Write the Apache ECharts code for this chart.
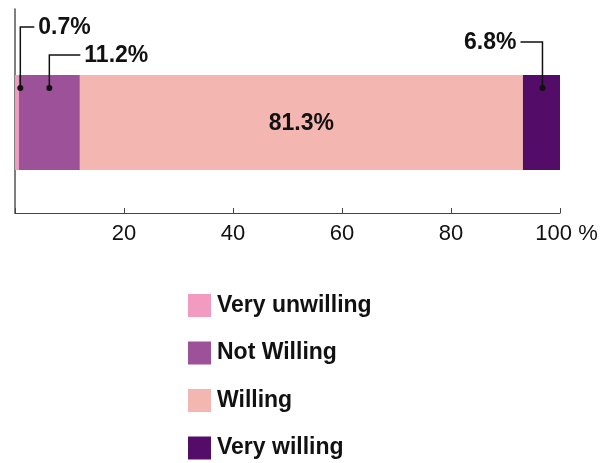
<!DOCTYPE html>
<html>
<head>
<meta charset="utf-8">
<script src="https://cdn.jsdelivr.net/npm/echarts@6/dist/echarts.min.js"></script>
<style>
  html, body { margin: 0; padding: 0; background: #fff; }
  #chart { width: 614px; height: 463px; }
</style>
</head>
<body>
<div id="chart"></div>
<script>
// Survey answers, share of respondents in percent
const categories = ['Willingness'];
const seriesNames = ['Very unwilling', 'Not Willing', 'Willing', 'Very willing'];
const veryUnwilling = [0.7];
const notWilling = [11.2];
const willing = [81.3];
const veryWilling = [6.8];
const axisTicks = [0, 20, 40, 60, 80, 100];

const colors = ['#F29AC0', '#9C5198', '#F4B6B1', '#530D68'];
const FONT = '"Liberation Sans", Arial, Helvetica, sans-serif';
const BAR_W = 95;

const values = [veryUnwilling, notWilling, willing, veryWilling];

// Leader-line callouts for the narrow segments (segment index, anchor within segment,
// pixel nudge of the anchor, label height above bar top, horizontal arm length, label side)
const callouts = [
  { seg: 0, frac: 1.0, nudge: 1.5, rise: 48, arm: 14, side: 'right' },
  { seg: 1, frac: 0.5, nudge: 0, rise: 20, arm: 31, side: 'right' },
  { seg: 3, frac: 0.5, nudge: 1, rise: 33, arm: 22, side: 'left' }
];

const starts = [];
let acc = 0;
values.forEach(v => { starts.push(acc); acc += v[0]; });

const calloutData = callouts.map(c => [starts[c.seg] + values[c.seg][0] * c.frac, 0]);

const barSeries = seriesNames.map((name, i) => ({
  name: name,
  type: 'bar',
  stack: 'total',
  xAxisIndex: 0,
  yAxisIndex: 0,
  barWidth: BAR_W,
  data: values[i],
  itemStyle: { color: colors[i] },
  label: {
    show: i === 2,
    position: 'inside',
    offset: [0, 1],
    formatter: p => p.value + '%',
    color: '#111',
    fontSize: 23,
    fontWeight: 'bold',
    fontFamily: FONT
  },
  emphasis: { disabled: true }
}));

const calloutSeries = {
  type: 'custom',
  xAxisIndex: 0,
  yAxisIndex: 0,
  z: 10,
  clip: false,
  silent: true,
  data: calloutData,
  encode: { x: 0, y: 1 },
  renderItem: function (params, api) {
    const c = callouts[params.dataIndex];
    const pt = api.coord([api.value(0), api.value(1)]);
    const x = pt[0] + c.nudge;
    const top = pt[1] - BAR_W / 2;
    const dotY = top + 13;
    const ly = top - c.rise;
    const dir = c.side === 'right' ? 1 : -1;
    const ex = x + dir * c.arm;
    const text = values[c.seg][0] + '%';
    return {
      type: 'group',
      children: [
        {
          type: 'polyline',
          shape: { points: [[x, dotY], [x, ly], [ex, ly]] },
          style: { stroke: '#111', lineWidth: 1.5, fill: null }
        },
        {
          type: 'circle',
          shape: { cx: x, cy: dotY, r: 3 },
          style: { fill: '#111' }
        },
        {
          type: 'text',
          x: ex + dir * 4,
          y: ly + 1,
          style: {
            text: text,
            fill: '#111',
            font: 'bold 23px ' + FONT,
            align: c.side === 'right' ? 'left' : 'right',
            verticalAlign: 'middle'
          }
        }
      ]
    };
  }
};

const chart = echarts.init(document.getElementById('chart'), null, { renderer: 'canvas' });

chart.setOption({
  animation: false,
  backgroundColor: '#fff',
  grid: [
    { left: 15, right: 54, top: 32, bottom: 250 },
    { left: 15, right: 54, top: 9, bottom: 250 }
  ],
  xAxis: [
    {
      gridIndex: 0,
      type: 'value',
      min: axisTicks[0],
      max: axisTicks[axisTicks.length - 1],
      interval: axisTicks[1] - axisTicks[0],
      splitLine: { show: false },
      axisLine: { show: true, lineStyle: { color: '#444', width: 1.2 } },
      axisTick: { show: true, inside: true, length: 5, lineStyle: { color: '#444' } },
      axisLabel: {
        margin: 10,
        color: '#111',
        fontSize: 22,
        fontFamily: FONT,
        showMinLabel: true,
        showMaxLabel: true,
        formatter: v => {
          if (v === axisTicks[0]) return '';
          if (v === axisTicks[axisTicks.length - 1]) return '{m|' + v + ' %}';
          return String(v);
        },
        rich: {
          m: { fontSize: 22, fontFamily: FONT, color: '#111', padding: [0, 0, 0, 13] }
        }
      }
    },
    {
      gridIndex: 1,
      type: 'value',
      min: 0,
      max: 100,
      show: false
    }
  ],
  yAxis: [
    {
      gridIndex: 0,
      type: 'category',
      data: categories,
      axisLine: { show: false },
      axisTick: { show: false },
      axisLabel: { show: false }
    },
    {
      gridIndex: 1,
      type: 'category',
      data: categories,
      axisLine: { show: true, lineStyle: { color: '#555', width: 1.5 } },
      axisTick: { show: false },
      axisLabel: { show: false }
    }
  ],
  legend: {
    data: seriesNames,
    orient: 'vertical',
    left: 188,
    top: 294,
    padding: 0,
    itemWidth: 23,
    itemHeight: 23,
    itemGap: 24.5,
    icon: 'rect',
    selectedMode: false,
    textStyle: { color: '#111', fontSize: 23, fontWeight: 'bold', fontFamily: FONT, padding: [2, 0, 0, 1] }
  },
  series: barSeries.concat([calloutSeries])
});
</script>
</body>
</html>
